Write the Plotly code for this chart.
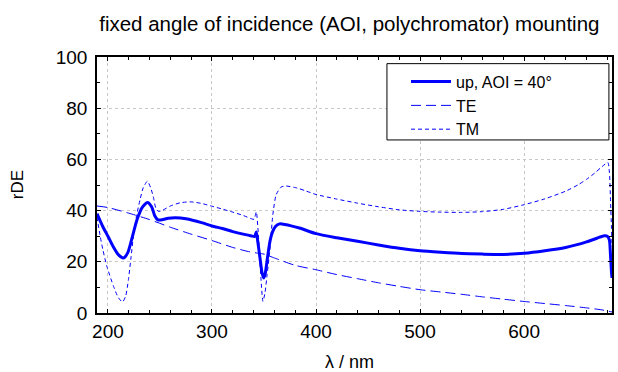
import plotly.graph_objects as go

# ---- data ----
wl_up = [189.5, 192, 196, 200, 205, 210, 215, 219, 223, 228, 233, 238, 242, 245, 248, 252, 258, 265, 275, 290,
         300, 310, 320, 330, 338, 341, 342.6, 344, 346, 348, 349.6, 351, 352.5, 354, 356, 358, 361, 365, 370, 384,
         400, 420, 440, 460, 480, 500, 520, 540, 560, 580, 600, 620, 640, 650, 660, 670, 677, 680, 682, 683, 684, 684.5]
rde_up = [38.8, 36.5, 33, 30, 26, 22.8, 21.5, 23.5, 29, 36.5, 41.3, 43.2, 41.5, 38, 36.4, 36.4, 37, 37.2, 36.8, 35.3,
          34.0, 33, 31.8, 30.8, 30.1, 29.9, 31.6, 28, 22, 16, 13.7, 15, 19, 23.5, 28.5, 31.5, 33.8, 34.8, 34.6, 33.2,
          31.0, 29.4, 28.0, 26.6, 25.3, 24.3, 23.7, 23.2, 23.0, 22.9, 23.3, 24.3, 25.6, 26.6, 27.8, 29.2, 30.2, 30.0, 28.5, 23, 16, 13.7]

wl_te = [189.5, 200, 220, 240, 260, 280, 300, 320, 335, 345, 350, 360, 380, 400, 420, 440, 460, 480, 500, 520,
         540, 560, 580, 600, 620, 640, 660, 675, 684.5]
rde_te = [41.8, 41.2, 39.0, 36.5, 33.5, 30.8, 28.3, 25.6, 24.0, 23.3, 23.0, 21.5, 18.6, 16.9, 15.0, 13.4, 11.8, 10.4, 9.1, 8.2,
          7.3, 6.3, 5.4, 4.5, 3.7, 2.9, 2.0, 1.2, 0.4]

wl_tm = [189.5, 192.6, 195, 199, 205.4, 210, 214, 217, 219.7, 222, 224.5, 227.5, 230.9, 234, 238, 241, 243.6, 246, 248.4, 252,
         260, 270, 280, 290, 300, 310, 320, 330, 338, 340.5, 342.6, 345, 347, 349, 351, 353, 355.5, 358.5, 361.7, 366.5,
         371, 382, 390, 400, 420, 440, 460, 480, 500, 520, 540, 560, 580, 600, 620, 640, 652, 660, 668, 675,
         680.5, 682, 683, 684, 684.5]
rde_tm = [37.5, 29.9, 25, 18.2, 10.4, 6, 4.3, 6.5, 13, 21, 30, 38, 44.3, 49, 51.5, 49, 45.5, 41, 39.7, 40,
          41.8, 43.1, 43.4, 42.8, 41.7, 40.6, 39.4, 38.1, 36.8, 36.6, 39.5, 28, 14, 4.5, 8, 15, 24, 38.4, 46.2, 49.2,
          49.6, 48.8, 47.7, 46.3, 44.5, 42.9, 41.5, 40.3, 39.7, 39.4, 39.3, 39.6, 40.5, 42.3, 44.6, 47.6, 50.1, 52.2, 54.7, 57.2,
          58.8, 55, 45, 33, 26]

names = ["up, AOI = 40°", "TE", "TM"]
x_ticks = [200, 300, 400, 500, 600]
y_ticks = [0, 20, 40, 60, 80, 100]

FONT = "Liberation Sans, Arial, sans-serif"
BLUE = "#0000ff"

fig = go.Figure()
fig.add_trace(go.Scatter(x=wl_up, y=rde_up, mode="lines", name=names[0],
                         line=dict(color=BLUE, width=3, shape="spline", smoothing=0.6)))
fig.add_trace(go.Scatter(x=wl_te, y=rde_te, mode="lines", name=names[1],
                         line=dict(color=BLUE, width=1, dash="10px,5px", shape="spline", smoothing=0.6)))
fig.add_trace(go.Scatter(x=wl_tm, y=rde_tm, mode="lines", name=names[2],
                         line=dict(color=BLUE, width=1, dash="4px,3px", shape="spline", smoothing=0.6)))

axis_common = dict(
    showline=True, linecolor="black", linewidth=1.5, mirror="ticks",
    ticks="inside", ticklen=4, tickcolor="black", tickwidth=1,
    showgrid=True, gridcolor="#c8c8c8", griddash="dot", gridwidth=1,
    zeroline=False,
    tickfont=dict(family=FONT, size=19, color="black"),
)

fig.update_xaxes(range=[189.5, 684.5], tickvals=x_ticks,
                 minor=dict(dtick=20, tick0=0, ticks="inside", ticklen=3, tickcolor="black", showgrid=False),
                 **axis_common)
fig.update_yaxes(range=[0, 100], tickvals=y_ticks, ticklabelstandoff=4,
                 minor=dict(dtick=10, tick0=0, ticks="inside", ticklen=3, tickcolor="black", showgrid=False),
                 **axis_common)

# legend frame (plot-area pixel layout: x 96.7..614, y 57.3..313.3)
fig.add_shape(type="rect", xref="paper", yref="paper",
              x0=0.563, x1=0.994, y0=0.676, y1=0.974,
              line=dict(color="black", width=1), fillcolor="white", layer="above")

fig.update_layout(
    width=618, height=372,
    margin=dict(l=97, r=4, t=57, b=59, pad=0),
    paper_bgcolor="white", plot_bgcolor="white",
    font=dict(family=FONT, color="black"),
    title=dict(text="fixed angle of incidence (AOI, polychromator) mounting",
               font=dict(family=FONT, size=20.5, color="black"),
               xref="paper", x=0.49, xanchor="center",
               yref="container", y=0.935, yanchor="middle"),
    showlegend=True,
    legend=dict(x=0.600, y=0.970, xanchor="left", yanchor="top",
                bgcolor="rgba(0,0,0,0)", borderwidth=0,
                font=dict(family=FONT, size=16, color="black"),
                tracegroupgap=0, itemwidth=40),
    annotations=[
        dict(text="rDE", xref="paper", yref="paper", x=-0.155, y=0.5,
             xanchor="center", yanchor="middle", textangle=-90, showarrow=False,
             font=dict(family=FONT, size=17, color="black")),
        dict(text="λ / nm", xref="paper", yref="paper", x=0.49, y=-0.19,
             xanchor="center", yanchor="middle", showarrow=False,
             font=dict(family=FONT, size=18, color="black")),
    ],
)

fig.write_html("out.html")
